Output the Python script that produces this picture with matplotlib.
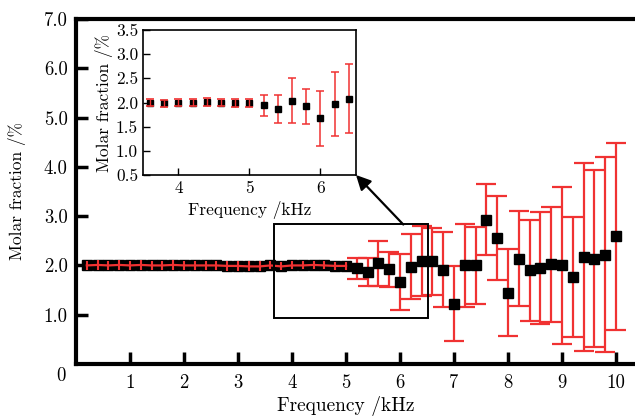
import matplotlib
matplotlib.use('Agg')
import matplotlib.pyplot as plt
from matplotlib.patches import Rectangle

plt.rcParams['font.family'] = 'cmr10'
plt.rcParams['mathtext.fontset'] = 'cm'
plt.rcParams['axes.formatter.use_mathtext'] = True

RED = '#f03232'

# frequency (kHz), molar fraction (%) and its uncertainty
freq = [0.2, 0.4, 0.6, 0.8, 1.0, 1.2, 1.4, 1.6, 1.8, 2.0,
        2.2, 2.4, 2.6, 2.8, 3.0, 3.2, 3.4, 3.6, 3.8, 4.0,
        4.2, 4.4, 4.6, 4.8, 5.0, 5.2, 5.4, 5.6, 5.8, 6.0,
        6.2, 6.4, 6.6, 6.8, 7.0, 7.2, 7.4, 7.6, 7.8, 8.0,
        8.2, 8.4, 8.6, 8.8, 9.0, 9.2, 9.4, 9.6, 9.8, 10.0]
fraction = [2.00, 2.01, 2.00, 2.01, 2.00, 2.01, 2.00, 2.00, 2.01, 2.00,
            2.00, 2.00, 2.00, 1.99, 1.99, 1.98, 1.98, 2.00, 1.98, 2.00,
            2.00, 2.01, 2.00, 1.99, 1.99, 1.94, 1.87, 2.04, 1.92, 1.67,
            1.97, 2.08, 2.08, 1.91, 1.22, 2.00, 2.00, 2.93, 2.55, 1.45,
            2.14, 1.90, 1.95, 2.02, 2.00, 1.76, 2.17, 2.14, 2.22, 2.59]
error = [0.10, 0.10, 0.10, 0.10, 0.10, 0.10, 0.10, 0.10, 0.10, 0.10,
         0.10, 0.10, 0.10, 0.10, 0.10, 0.10, 0.10, 0.08, 0.08, 0.08,
         0.08, 0.08, 0.08, 0.08, 0.08, 0.21, 0.29, 0.46, 0.36, 0.57,
         0.66, 0.71, 0.68, 0.76, 0.76, 0.84, 0.78, 0.72, 0.85, 0.89,
         0.97, 1.02, 1.13, 1.17, 1.60, 1.22, 1.90, 1.79, 1.97, 1.90]

# points up to 5 kHz have tiny bars that sit on top of the markers
n_low = 25

main_xticks = [1, 2, 3, 4, 5, 6, 7, 8, 9, 10]
main_yticks = [1, 2, 3, 4, 5, 6, 7]
inset_xticks = [4, 5, 6]
inset_yticks = [0.5, 1.0, 1.5, 2.0, 2.5, 3.0, 3.5]

fig = plt.figure(figsize=(6.35, 4.17), dpi=100)

ax = fig.add_axes([76 / 635, 53 / 417, 559 / 635, 345 / 417])
ax.plot(freq, fraction, 's', color='black', ms=7, zorder=3)
# dense low-frequency part: red trace and short bars over the markers
ax.plot(freq[:n_low], fraction[:n_low], color=RED, lw=1.6, zorder=4)
ax.errorbar(freq[:n_low], fraction[:n_low], yerr=error[:n_low], fmt='none',
            ecolor=RED, elinewidth=1.5, capsize=0, zorder=4)
ax.errorbar(freq[n_low:], fraction[n_low:], yerr=error[n_low:], fmt='none',
            ecolor=RED, elinewidth=1.6, capsize=7.5, capthick=1.6, zorder=2)
ax.set_xlim(0, 10.35)
ax.set_ylim(0, 7)
ax.set_xticks(main_xticks)
ax.set_xticklabels([str(t) for t in main_xticks])
ax.set_yticks(main_yticks)
ax.set_yticklabels(['%.1f' % t for t in main_yticks])
for side in ['left', 'bottom', 'top']:
    ax.spines[side].set_linewidth(3)
ax.spines['right'].set_visible(False)
ax.tick_params(direction='in', length=8.5, width=2.5, labelsize=13.5,
               top=False, right=False)
ax.tick_params(axis='y', pad=6)
ax.tick_params(axis='x', pad=7)
ax.annotate('0', xy=(0, 0), xycoords='data', xytext=(-11, -9),
            textcoords='offset points', ha='center', va='center', fontsize=13.5)
ax.text(0.483, -0.121, 'Frequency /kHz', transform=ax.transAxes,
        ha='center', va='center', fontsize=14)
ax.text(-0.1047, 0.5, 'Molar fraction /%', transform=ax.transAxes,
        ha='center', va='center', rotation=90, fontsize=12.5)

# region shown enlarged in the inset
ax.add_patch(Rectangle((3.67, 0.925), 2.85, 1.925, fill=False,
                       edgecolor='black', lw=1.4, zorder=5))

axins = fig.add_axes([143 / 635, 242 / 417, 213 / 635, 145 / 417])
axins.plot(freq, fraction, 's', color='black', ms=4.8, zorder=3)
axins.errorbar(freq[:n_low], fraction[:n_low], yerr=error[:n_low], fmt='none',
               ecolor=RED, elinewidth=1.0, capsize=3.2, capthick=1.2, zorder=4)
axins.errorbar(freq[n_low:], fraction[n_low:], yerr=error[n_low:], fmt='none',
               ecolor=RED, elinewidth=1.1, capsize=3.2, capthick=1.1, zorder=2)
axins.set_xlim(3.5, 6.5)
axins.set_ylim(0.5, 3.5)
axins.set_xticks(inset_xticks)
axins.set_xticklabels([str(t) for t in inset_xticks])
axins.set_yticks(inset_yticks)
axins.set_yticklabels(['%.1f' % t for t in inset_yticks])
for side in axins.spines.values():
    side.set_linewidth(1.2)
axins.tick_params(direction='in', length=5, width=1.0, labelsize=12.5,
                  top=False, right=False)
axins.tick_params(axis='y', pad=3.5)
axins.tick_params(axis='x', pad=4)
axins.text(0.502, -0.238, 'Frequency /kHz', transform=axins.transAxes,
           ha='center', va='center', fontsize=12.5)
axins.text(-0.185, 0.5, 'Molar fraction /%', transform=axins.transAxes,
           ha='center', va='center', rotation=90, fontsize=12.5)

ax.annotate('', xy=(1, 0), xycoords=axins.transAxes,
            xytext=(6.06, 2.83), textcoords='data',
            arrowprops=dict(arrowstyle='-|>', color='black', lw=1.6,
                            mutation_scale=22, shrinkA=0, shrinkB=0),
            zorder=6)

fig.savefig('out.png', dpi=100)
